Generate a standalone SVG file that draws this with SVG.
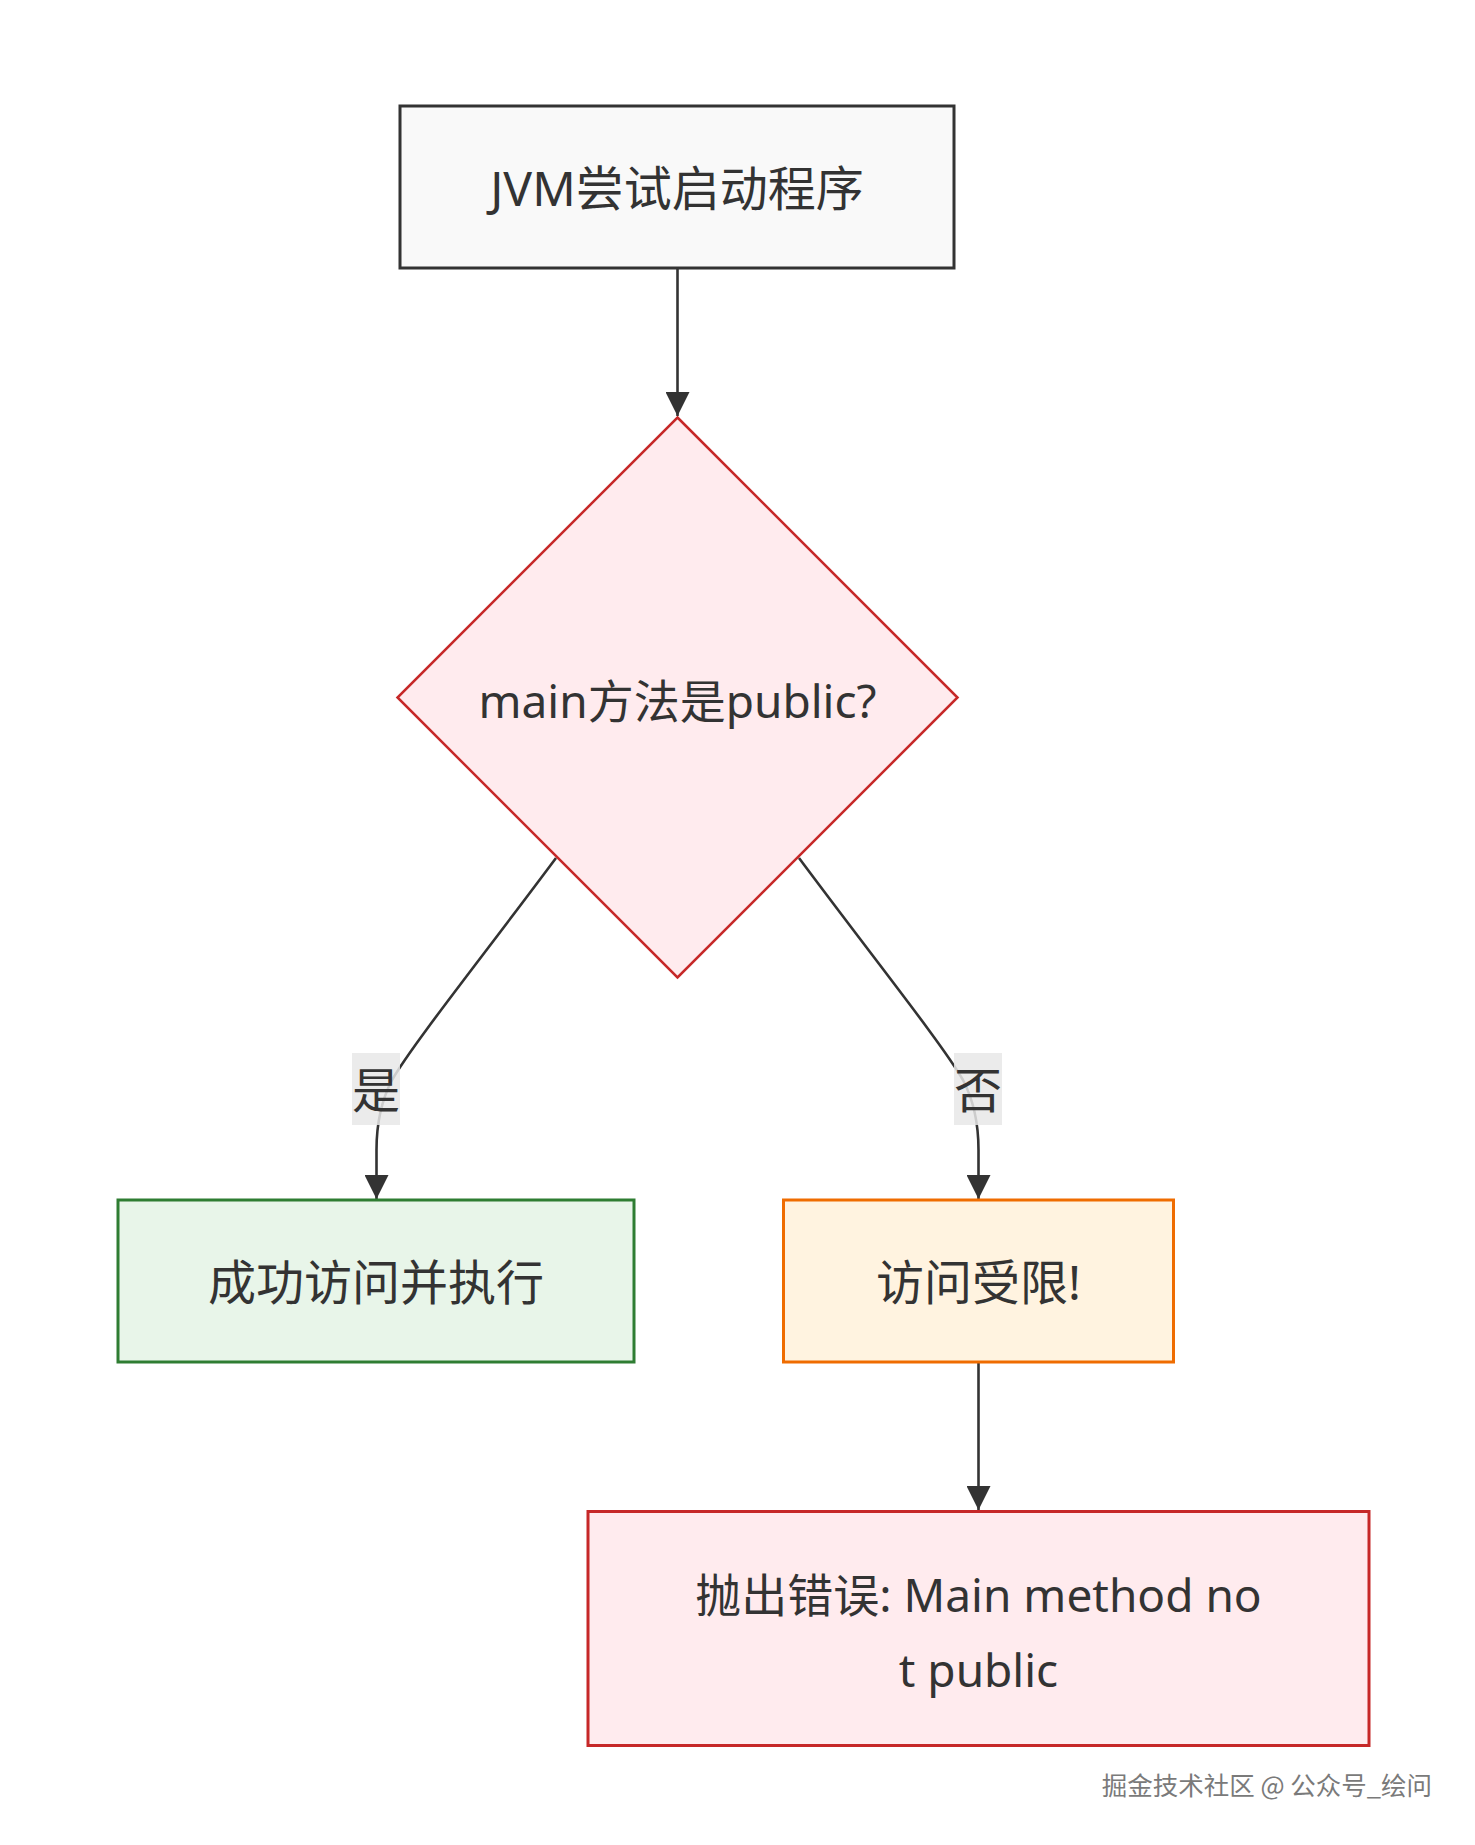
<svg xmlns="http://www.w3.org/2000/svg" width="1475" height="1845" viewBox="0 0 1475 1845">
<style>
.t{font-family:"Noto Sans","Noto Sans CJK SC",sans-serif;font-size:46px;fill:#333;text-anchor:middle;dominant-baseline:central}
.big{font-size:48px}
.edge{fill:none;stroke:#333;stroke-width:2.6}
.lbl{fill:#e8e8e8;opacity:0.85}
.wm{font-family:"Noto Sans CJK SC","Noto Sans",sans-serif;font-size:25.5px;fill:#7a7a7a;text-anchor:end}
</style>
<defs>
<marker id="arr" markerUnits="userSpaceOnUse" markerWidth="24" markerHeight="24" viewBox="0 0 10 10" refX="10" refY="5" orient="auto">
<path d="M0,0 L10,5 L0,10 z" fill="#333"/>
</marker>
</defs>
<rect width="1475" height="1845" fill="#ffffff"/>
<g id="connectors">
<path class="edge" d="M677.5,268 L677.5,416" marker-end="url(#arr)"/>
<path class="edge" d="M556,858 C480,960 412,1045 392,1080 C380,1103 376.5,1125 376.5,1150 L376.5,1199" marker-end="url(#arr)"/>
<path class="edge" d="M799,858 C875,960 943,1045 963,1080 C975,1103 978.5,1125 978.5,1150 L978.5,1199" marker-end="url(#arr)"/>
<path class="edge" d="M978.5,1362 L978.5,1510" marker-end="url(#arr)"/>
</g>
<g id="label-yes">
<rect class="lbl" x="352" y="1053" width="48" height="72"/>
<text class="t big" x="376" y="1089">是</text>
</g>
<g id="label-no">
<rect class="lbl" x="954" y="1053" width="48" height="72"/>
<text class="t big" x="978" y="1089">否</text>
</g>
<g id="start">
<rect x="400" y="106" width="554" height="162" fill="#f9f9f9" stroke="#333" stroke-width="3"/>
<text class="t big" x="677" y="187">JVM尝试启动程序</text>
</g>
<g id="decision">
<polygon points="677.5,417.5 957.5,697.5 677.5,977.5 397.5,697.5" fill="#ffebee" stroke="#c62828" stroke-width="2.5"/>
<text class="t" x="677.5" y="700">main方法是public?</text>
</g>
<g id="success">
<rect x="118" y="1200" width="516" height="162" fill="#e8f5e9" stroke="#2e7d32" stroke-width="3"/>
<text class="t big" x="376" y="1281">成功访问并执行</text>
</g>
<g id="denied">
<rect x="783.5" y="1200" width="390" height="162" fill="#fff3e0" stroke="#ef6c00" stroke-width="3"/>
<text class="t big" x="978.5" y="1281">访问受限!</text>
</g>
<g id="error">
<rect x="588" y="1511.5" width="781" height="234" fill="#ffebee" stroke="#c62828" stroke-width="3"/>
<text class="t" x="978.5" y="1594">抛出错误: Main method no</text>
<text class="t" x="978.5" y="1669">t public</text>
</g>
<text class="wm" x="1432" y="1795">掘金技术社区 @ 公众号_绘问</text>
</svg>
